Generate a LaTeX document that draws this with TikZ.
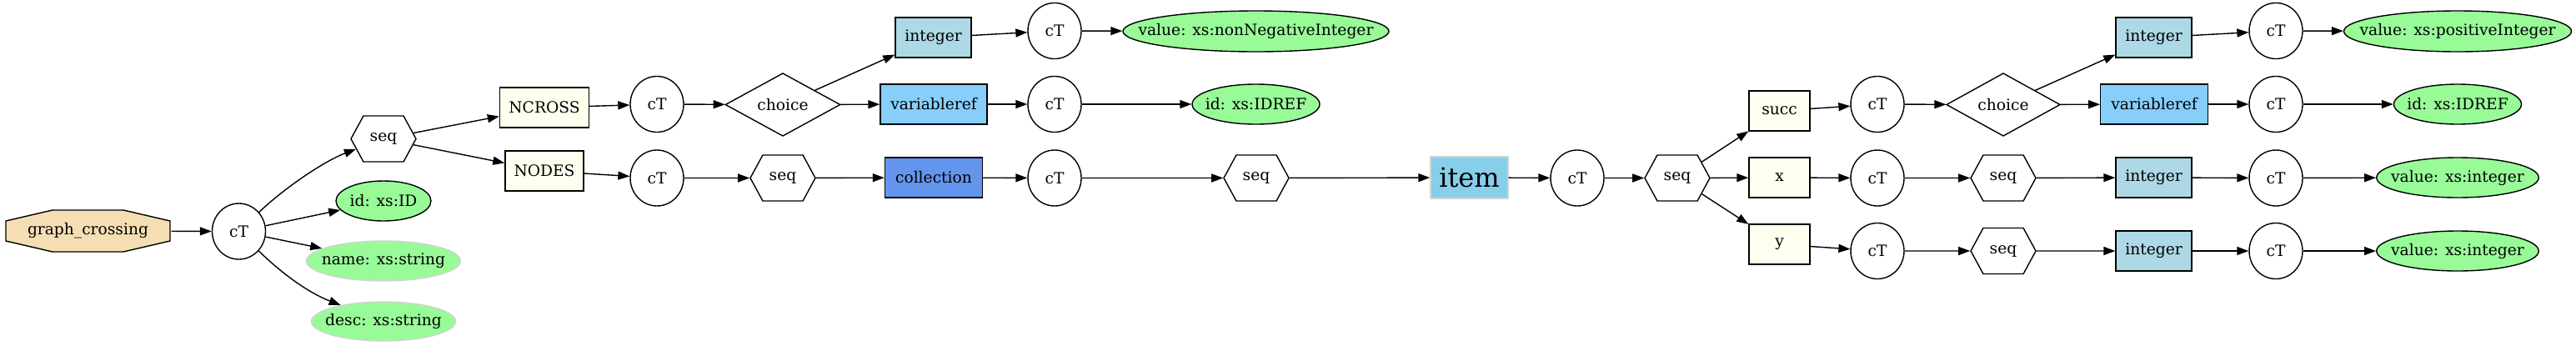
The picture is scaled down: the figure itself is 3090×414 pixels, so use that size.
\documentclass[tikz,border=0pt]{standalone}
\usepackage{fontspec}
\setmainfont{DejaVu Serif}
\usetikzlibrary{shapes.geometric,shapes.symbols,arrows.meta,calc,backgrounds}
\definecolor{wheat}{HTML}{F5DEB3}
\definecolor{ivory}{HTML}{FFFFF0}
\definecolor{lightblue}{HTML}{ADD8E6}
\definecolor{lightskyblue}{HTML}{87CEFA}
\definecolor{cornflower}{HTML}{6495ED}
\definecolor{skyblue}{HTML}{87CEEB}
\definecolor{palegreen}{HTML}{98FB98}
\definecolor{lgray}{HTML}{D3D3D3}
\tikzset{
  base/.style={line width=0.7pt, inner sep=0pt, font=\fontsize{9.33}{11}\selectfont},
  ctnode/.style={base, ellipse, draw, minimum width=32pt, minimum height=33.5pt},
  hexnode/.style={base, signal, signal to=east and west, signal pointer angle=123, draw, minimum width=39pt, minimum height=27.5pt},
  elbox/.style={base, rectangle, draw, fill=ivory, minimum height=24pt},
  typebox/.style={base, rectangle, draw, minimum height=24pt},
  attrtext/.style={base, draw=none, fill=none},
  attr/.style={base, ellipse, draw, fill=palegreen, minimum height=24pt, label={[attrtext]center:{#1}}},
  attrg/.style={attr={#1}, draw=lgray},
  choicenode/.style={base, diamond, draw, minimum width=69pt, minimum height=33.5pt},
  octnode/.style={base, rectangle, minimum width=99.5pt, minimum height=26pt},
  octshape/.style={line width=0.7pt, draw, fill=wheat},
  edge/.style={line width=0.7pt, -{Triangle[length=7pt,width=5pt]}},
}
\begin{document}
\begin{tikzpicture}[x=0.5pt, y=-0.5pt]
\useasboundingbox (0,0) rectangle (3090,414);
% left part
\node[octnode] (gc) at (105.5,277) {graph\_crossing};
\begin{scope}[on background layer]
\path[octshape] ($(gc.center)+(-98.5,-12)$) -- ($(gc.center)+(-98.5,12)$) -- ($(gc.center)+(-42.5,25)$)
  -- ($(gc.center)+(42.5,25)$) -- ($(gc.center)+(98.5,12)$) -- ($(gc.center)+(98.5,-12)$)
  -- ($(gc.center)+(42.5,-25)$) -- ($(gc.center)+(-42.5,-25)$) -- cycle;
\end{scope}
\node[ctnode] (ct1) at (286.5,277.5) {cT};
\node[hexnode] (seq1) at (460,166.5) {seq};
\node[attr={id: xs:ID}, minimum width=57pt] (id1) at (460,241) {};
\node[attrg={name: xs:string}, minimum width=92.5pt] (name) at (460,313) {};
\node[attrg={desc: xs:string}, minimum width=86.5pt, minimum height=23.5pt] (desc) at (460,385.5) {};
\node[elbox, minimum width=53.5pt] (ncross) at (653,129) {NCROSS};
\node[elbox, minimum width=47pt] (nodes) at (653,205) {NODES};
\node[ctnode] (ct2) at (788,125) {cT};
\node[ctnode] (ct3) at (788,213.5) {cT};
\node[choicenode] (choice1) at (939,125.5) {choice};
\node[hexnode] (seq2) at (939,213.5) {seq};
\node[typebox, fill=lightblue, minimum width=45.5pt] (int1) at (1119.5,45) {integer};
\node[typebox, fill=lightskyblue, minimum width=64pt] (vref1) at (1120,125) {variableref};
\node[typebox, fill=cornflower, minimum width=58.5pt] (coll) at (1120,213) {collection};
\node[ctnode] (ct4) at (1265,37) {cT};
\node[ctnode] (ct5) at (1265,125) {cT};
\node[ctnode] (ct6) at (1265,213.5) {cT};
\node[attr={value: xs:nonNegativeInteger}, minimum width=159.5pt, minimum height=24.5pt] (val1) at (1506.5,37.5) {};
\node[attr={id: xs:IDREF}, minimum width=76.5pt] (idref1) at (1506.5,125) {};
\node[hexnode] (seq3) at (1507,213.5) {seq};
% item part
\node[base, rectangle, draw=lgray, fill=skyblue, minimum width=46.5pt, minimum height=25pt, font=\fontsize{16}{19}\selectfont] (item) at (1762.5,213) {item};
\node[ctnode] (ct7) at (1892,213.5) {cT};
\node[hexnode] (seq4) at (2012,213.5) {seq};
\node[elbox, minimum width=36.5pt] (succ) at (2134.5,133) {succ};
\node[elbox, minimum width=36.5pt] (xbox) at (2134.5,213) {x};
\node[elbox, minimum width=36.5pt] (ybox) at (2134.5,293) {y};
\node[ctnode] (ct8) at (2252,125) {cT};
\node[ctnode] (ct9) at (2252,213.5) {cT};
\node[ctnode] (ct10) at (2252,301) {cT};
\node[choicenode, minimum width=68.3pt] (choice2) at (2403,125.5) {choice};
\node[hexnode] (seq5) at (2403,213.5) {seq};
\node[hexnode] (seq6) at (2403,301) {seq};
\node[typebox, fill=lightblue, minimum width=45.5pt] (int2) at (2583.5,45) {integer};
\node[typebox, fill=lightskyblue, minimum width=64.25pt] (vref2) at (2584,125) {variableref};
\node[typebox, fill=lightblue, minimum width=45.5pt] (int3) at (2583.5,213) {integer};
\node[typebox, fill=lightblue, minimum width=45.5pt] (int4) at (2583.5,301) {integer};
\node[ctnode] (ct11) at (2730,37) {cT};
\node[ctnode] (ct12) at (2730,125) {cT};
\node[ctnode] (ct13) at (2730,213.5) {cT};
\node[ctnode] (ct14) at (2730,301) {cT};
\node[attr={value: xs:positiveInteger}, minimum width=136.5pt, minimum height=24.5pt] (val2) at (2948,37.5) {};
\node[attr={id: xs:IDREF}, minimum width=76.5pt] (idref2) at (2948,125) {};
\node[attr={value: xs:integer}, minimum width=97.25pt] (val3) at (2948,213) {};
\node[attr={value: xs:integer}, minimum width=97.25pt] (val4) at (2948,301) {};
% edges
\draw[edge] (gc) -- (ct1);
\draw[edge] (ct1) .. controls (345,222) and (392,192) .. (seq1);
\draw[edge] (ct1) -- (id1);
\draw[edge] (ct1) -- (name);
\draw[edge] (ct1) .. controls (340,330) and (372,352) .. (desc);
\draw[edge] (seq1) -- (ncross);
\draw[edge] (seq1) -- (nodes);
\draw[edge] (ncross) -- (ct2);
\draw[edge] (nodes) -- (ct3);
\draw[edge] (ct2) -- (choice1);
\draw[edge] (ct3) -- (seq2);
\draw[edge] (choice1) -- (int1);
\draw[edge] (choice1) -- (vref1);
\draw[edge] (seq2) -- (coll);
\draw[edge] (int1) -- (ct4);
\draw[edge] (vref1) -- (ct5);
\draw[edge] (coll) -- (ct6);
\draw[edge] (ct4) -- (val1);
\draw[edge] (ct5) -- (idref1);
\draw[edge] (ct6) -- (seq3);
\draw[edge] (seq3) -- (item);
\draw[edge] (item) -- (ct7);
\draw[edge] (ct7) -- (seq4);
\draw[edge] (seq4) -- (succ);
\draw[edge] (seq4) -- (xbox);
\draw[edge] (seq4) -- (ybox);
\draw[edge] (succ) -- (ct8);
\draw[edge] (xbox) -- (ct9);
\draw[edge] (ybox) -- (ct10);
\draw[edge] (ct8) -- (choice2);
\draw[edge] (ct9) -- (seq5);
\draw[edge] (ct10) -- (seq6);
\draw[edge] (choice2) -- (int2);
\draw[edge] (choice2) -- (vref2);
\draw[edge] (seq5) -- (int3);
\draw[edge] (seq6) -- (int4);
\draw[edge] (int2) -- (ct11);
\draw[edge] (vref2) -- (ct12);
\draw[edge] (int3) -- (ct13);
\draw[edge] (int4) -- (ct14);
\draw[edge] (ct11) -- (val2);
\draw[edge] (ct12) -- (idref2);
\draw[edge] (ct13) -- (val3);
\draw[edge] (ct14) -- (val4);
\end{tikzpicture}
\end{document}
